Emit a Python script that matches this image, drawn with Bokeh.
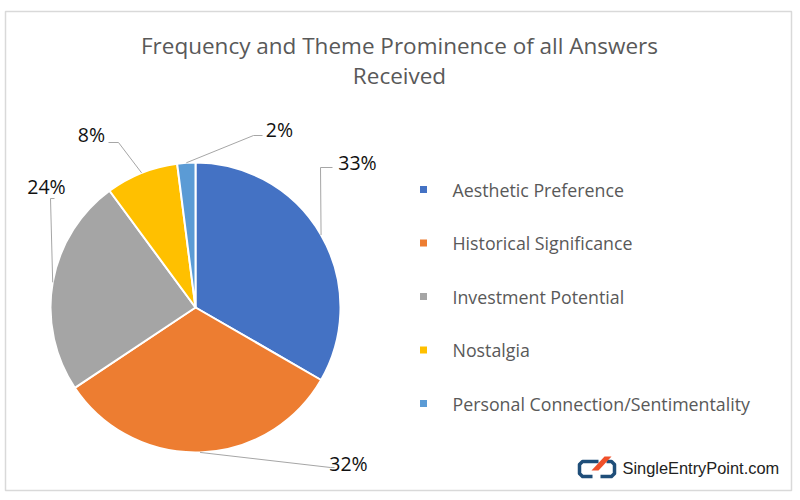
import math
from bokeh.plotting import figure
from bokeh.models import Range1d, ColumnDataSource
from bokeh.core.properties import value
from bokeh.embed import file_html
from bokeh.resources import INLINE

# ---------------- data ----------------
categories = ["Aesthetic Preference", "Historical Significance", "Investment Potential",
              "Nostalgia", "Personal Connection/Sentimentality"]
shares = [33, 32, 24, 8, 2]
colors = ["#4472C4", "#ED7D31", "#A5A5A5", "#FFC000", "#5B9BD5"]
title_lines = ["Frequency and Theme Prominence of all Answers", "Received"]
brand = "SingleEntryPoint.com"

# ---------------- layout (image pixel coords, y down) ----------------
W, H = 800, 500
def Y(y):
    return H - y

CX, CY, R = 195, 307, 145
# label positions and leader line elbows / ends
label_pos = [(357, 162), (348, 463), (46, 186), (91, 134), (279, 129)]
leader_elbow = [(320, 167), (330, 467), (50, 198), (118, 142), (253, 135)]
leader_end = [(332, 167), (334, 467), (54, 198), (108, 142), (262, 135)]

p = figure(width=W, height=H, output_backend="svg", toolbar_location=None,
           x_range=Range1d(0, W), y_range=Range1d(0, H), min_border=0)
p.axis.visible = False
p.grid.visible = False
p.outline_line_color = None
p.background_fill_color = "white"
p.border_fill_color = "white"

# chart border
p.quad(left=5, right=791, bottom=Y(490), top=Y(11), fill_color=None,
       line_color="#D9D9D9", line_width=1.5)

# title
for i, t in enumerate(title_lines):
    p.text(x=[399], y=[Y(45 + 30 * i)], text=[t], text_align="center", text_baseline="middle",
           text_font=value("Open Sans"), text_font_size="22.5px", text_color="#595959")

# pie wedges (clockwise from 12 o'clock)
total = float(sum(shares))
cum = [0.0]
for s in shares:
    cum.append(cum[-1] + s / total)
starts = [math.pi / 2 - cum[i + 1] * 2 * math.pi for i in range(len(shares))]
ends = [math.pi / 2 - cum[i] * 2 * math.pi for i in range(len(shares))]
mids = [(cum[i] + cum[i + 1]) / 2 for i in range(len(shares))]
src = ColumnDataSource(dict(start=starts, end=ends, color=colors, cat=categories))
p.wedge(x=CX, y=Y(CY), radius=R, start_angle="start", end_angle="end",
        fill_color="color", line_color="white", line_width=2, source=src)

# leader lines and data labels
for i, s in enumerate(shares):
    th = mids[i] * 2 * math.pi
    sx = CX + R * math.sin(th)
    sy = CY - R * math.cos(th)
    ex, ey = leader_elbow[i]
    fx, fy = leader_end[i]
    p.line(x=[sx, ex, fx], y=[Y(sy), Y(ey), Y(fy)], line_color="#A6A6A6", line_width=1)
    lx, ly = label_pos[i]
    p.text(x=[lx], y=[Y(ly)], text=[f"{s}%"], text_align="center", text_baseline="middle",
           text_font=value("Open Sans"), text_font_size="19.5px", text_color="#111111")

# legend
leg_y = [189 + 53.5 * i for i in range(len(categories))]
p.scatter(x=[423] * len(categories), y=[Y(v) for v in leg_y], marker="square", size=7,
          fill_color=colors, line_color=None)
p.text(x=[452] * len(categories), y=[Y(v) for v in leg_y], text=categories,
       text_align="left", text_baseline="middle", text_font=value("Open Sans"),
       text_font_size="17.8px", text_color="#595959")

# brand logo
p.line(x=[598, 582, 579, 579, 582, 592], y=[Y(v) for v in [461, 461, 464, 473, 476, 476]],
       line_color="#1F4E79", line_width=3.5, line_join="round")
p.line(x=[600, 611, 614, 614, 611, 606], y=[Y(v) for v in [476, 476, 473, 464, 461, 461]],
       line_color="#1F4E79", line_width=3.5, line_join="round")
p.patch(x=[591, 598, 611, 604], y=[Y(v) for v in [470, 470, 456, 456]],
        fill_color="#F0502A", line_color=None)
p.text(x=[622], y=[Y(467)], text=[brand], text_align="left", text_baseline="middle",
       text_font=value("Liberation Sans"), text_font_size="16.4px", text_color="#222222")

open("out.html", "w").write(file_html(p, INLINE))
